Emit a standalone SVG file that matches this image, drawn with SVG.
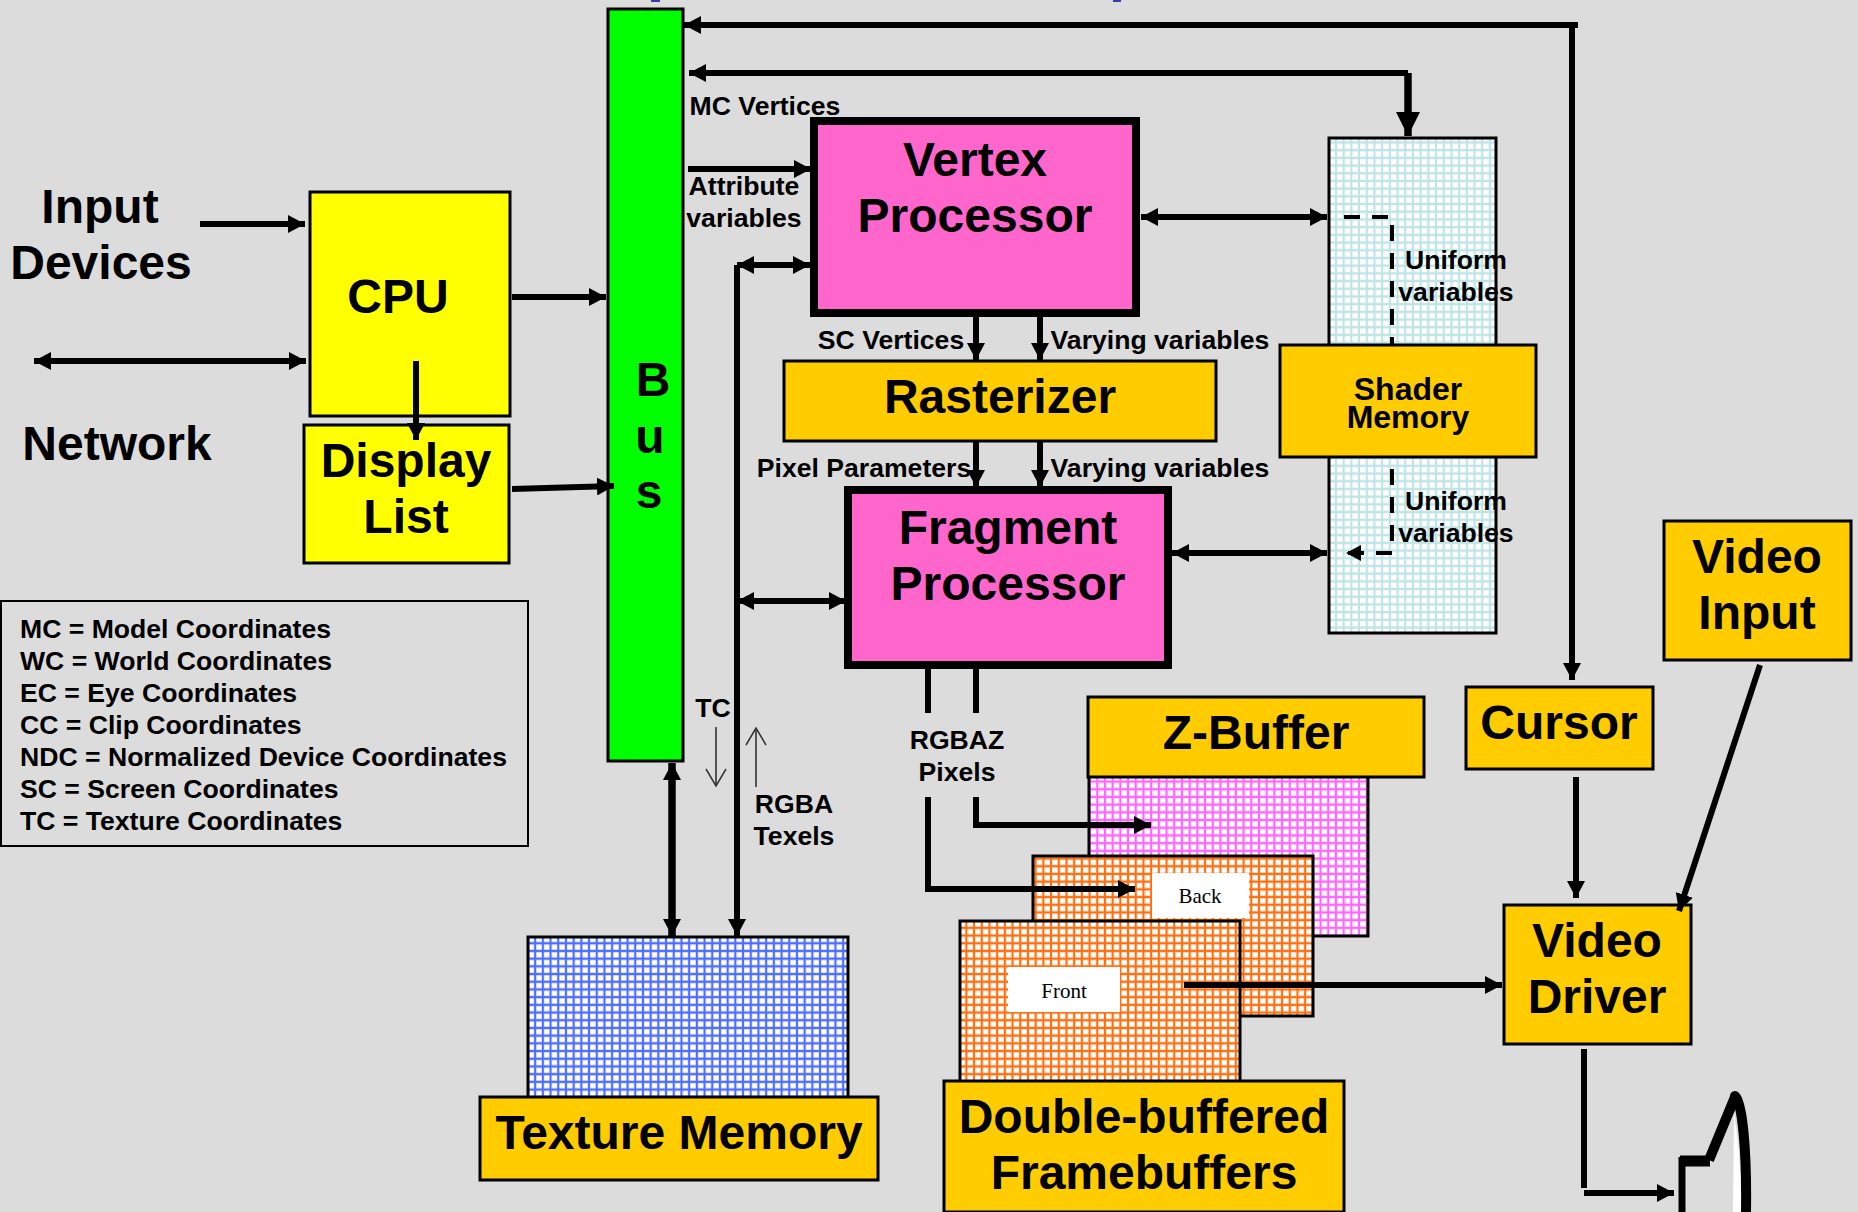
<svg xmlns="http://www.w3.org/2000/svg" width="1858" height="1212" viewBox="0 0 1858 1212">
<style>
text{font-family:"Liberation Sans",Arial,sans-serif;font-weight:700;fill:#000;text-anchor:middle}
.big{font-size:48px}
.lab{font-size:26.6px}
.leg{font-size:26.6px;text-anchor:start}
.ser{font-family:"Liberation Serif",serif;font-weight:400;font-size:21px}
.box{stroke:#000;stroke-width:3}
.thick{stroke:#000;stroke-width:8}
.c{fill:none;stroke:#000;stroke-width:6}
.c7{fill:none;stroke:#000;stroke-width:7.5}
.dash{fill:none;stroke:#000;stroke-width:4;stroke-dasharray:16 12}
.thin{fill:none;stroke:#555;stroke-width:2}
</style>
<defs>
<pattern id="pc" width="7.7" height="7.7" patternUnits="userSpaceOnUse"><rect width="7.7" height="7.7" fill="#fff"/><path d="M0 3.85H7.7M3.85 0V7.7" stroke="#bfe3e6" stroke-width="2.2"/></pattern>
<pattern id="pm" width="7.7" height="7.7" patternUnits="userSpaceOnUse"><rect width="7.7" height="7.7" fill="#fff"/><path d="M0 3.85H7.7M3.85 0V7.7" stroke="#ff66ff" stroke-width="2.2"/></pattern>
<pattern id="po" width="7.7" height="7.7" patternUnits="userSpaceOnUse"><rect width="7.7" height="7.7" fill="#fff"/><path d="M0 3.85H7.7M3.85 0V7.7" stroke="#ff6f10" stroke-width="2.2"/></pattern>
<pattern id="pb" width="7.7" height="7.7" patternUnits="userSpaceOnUse"><rect width="7.7" height="7.7" fill="#fff"/><path d="M0 3.85H7.7M3.85 0V7.7" stroke="#4d6dff" stroke-width="2.2"/></pattern>
<marker id="a" markerWidth="18" markerHeight="18" refX="17" refY="9" orient="auto-start-reverse" markerUnits="userSpaceOnUse"><path d="M0 0L17 9L0 18Z" fill="#000"/></marker>
<marker id="b" markerWidth="25" markerHeight="26" refX="24" refY="12" orient="auto" markerUnits="userSpaceOnUse"><path d="M0 0L24 12L0 24Z" fill="#000"/></marker>
<marker id="s" markerWidth="18" markerHeight="18" refX="15" refY="8" orient="auto-start-reverse" markerUnits="userSpaceOnUse"><path d="M0 0L15 8L0 16Z" fill="#000"/></marker>
<marker id="o" markerWidth="19" markerHeight="22" refX="18" refY="11" orient="auto" markerUnits="userSpaceOnUse"><path d="M1 1L18 11L1 21" fill="none" stroke="#333" stroke-width="1.5"/></marker>
</defs>
<rect width="1858" height="1212" fill="#dcdcdc"/>
<g id="title-clip"><rect x="651" y="0" width="9" height="2" fill="#3a3aa8"/><rect x="1113" y="0" width="8" height="2" fill="#3a3aa8"/></g>

<g id="uniform-store-top"><rect x="1329" y="138" width="167" height="495" fill="url(#pc)" stroke="#000" stroke-width="3"/></g>
<g id="zbuffer-plane"><rect x="1089" y="775" width="279" height="161" fill="url(#pm)" stroke="#000" stroke-width="3"/></g>
<g id="back"><rect x="1033" y="856" width="280" height="160" fill="url(#po)" stroke="#000" stroke-width="3"/><rect x="1152" y="873" width="97" height="45" fill="#fff"/><text class="ser" x="1200" y="903">Back</text></g>
<g id="front"><rect x="960" y="921" width="280" height="170" fill="url(#po)" stroke="#000" stroke-width="3"/><rect x="1008" y="967" width="112" height="45" fill="#fff"/><text class="ser" x="1064" y="998">Front</text></g>
<g id="texture-plane"><rect x="528" y="937" width="320" height="170" fill="url(#pb)" stroke="#000" stroke-width="3"/></g>

<g id="bus"><rect class="box" x="608" y="9" width="75" height="752" fill="#00ff00"/><text x="653" y="396" style="font-size:48px">B</text><text x="650" y="453" style="font-size:48px">u</text><text x="649" y="508" style="font-size:48px">s</text></g>
<g id="cpu"><rect class="box" x="310" y="192" width="200" height="224" fill="#ffff00"/><text class="big" x="398" y="313">CPU</text></g>
<g id="display-list"><rect class="box" x="304" y="425" width="205" height="138" fill="#ffff00"/><text class="big" x="406" y="477">Display</text><text class="big" x="406" y="533">List</text></g>
<g id="vertex"><rect class="thick" x="814" y="121" width="322" height="192" fill="#ff66cc"/><text class="big" x="975" y="176">Vertex</text><text class="big" x="975" y="232">Processor</text></g>
<g id="rasterizer"><rect class="box" x="784" y="361" width="432" height="80" fill="#ffcc00"/><text class="big" x="1000" y="413">Rasterizer</text></g>
<g id="fragment"><rect class="thick" x="848" y="490" width="320" height="175" fill="#ff66cc"/><text class="big" x="1008" y="544">Fragment</text><text class="big" x="1008" y="600">Processor</text></g>
<g id="shader"><rect class="box" x="1280" y="345" width="256" height="112" fill="#ffcc00"/><text x="1408" y="400" style="font-size:32px">Shader</text><text x="1408" y="428" style="font-size:32px">Memory</text></g>
<g id="zbuffer"><rect class="box" x="1088" y="697" width="336" height="80" fill="#ffcc00"/><text class="big" x="1256" y="749">Z-Buffer</text></g>
<g id="cursor"><rect class="box" x="1466" y="687" width="187" height="82" fill="#ffcc00"/><text class="big" x="1559" y="739">Cursor</text></g>
<g id="video-input"><rect class="box" x="1664" y="521" width="187" height="139" fill="#ffcc00"/><text class="big" x="1757" y="573">Video</text><text class="big" x="1757" y="629">Input</text></g>
<g id="video-driver"><rect class="box" x="1504" y="905" width="187" height="139" fill="#ffcc00"/><text class="big" x="1597" y="957">Video</text><text class="big" x="1597" y="1013">Driver</text></g>
<g id="texture-memory"><rect class="box" x="480" y="1097" width="398" height="83" fill="#ffcc00"/><text class="big" x="679" y="1149">Texture Memory</text></g>
<g id="framebuffers"><rect class="box" x="944" y="1081" width="400" height="131" fill="#ffcc00"/><text class="big" x="1144" y="1133">Double-buffered</text><text class="big" x="1144" y="1189">Framebuffers</text></g>
<g id="legend"><rect x="1" y="601" width="527" height="245" fill="none" stroke="#000" stroke-width="2"/>
<text class="leg" x="20" y="638">MC = Model Coordinates</text>
<text class="leg" x="20" y="670">WC = World Coordinates</text>
<text class="leg" x="20" y="702">EC = Eye Coordinates</text>
<text class="leg" x="20" y="734">CC = Clip Coordinates</text>
<text class="leg" x="20" y="766">NDC = Normalized Device Coordinates</text>
<text class="leg" x="20" y="798">SC = Screen Coordinates</text>
<text class="leg" x="20" y="830">TC = Texture Coordinates</text></g>
<g id="monitor"><path d="M1682 1212V1157" fill="none" stroke="#000" stroke-width="7"/><path d="M1680 1161H1710" fill="none" stroke="#000" stroke-width="11"/><path d="M1709 1160L1735 1097" fill="none" stroke="#000" stroke-width="10"/><path d="M1735 1096C1742 1100 1747 1150 1746 1212" fill="none" stroke="#000" stroke-width="10" stroke-linecap="round"/><path d="M1734 1114L1733 1212H1741C1741 1180 1740 1150 1734 1114Z" fill="#fff"/></g>

<g id="connectors">
<path class="c" d="M1578 25H684" marker-end="url(#a)"/>
<path class="c" d="M1572 25V680" marker-end="url(#a)"/>
<path class="c" d="M1408 73H689" marker-end="url(#a)"/>
<path class="c7" d="M1408 73V136" marker-end="url(#b)"/>
<path class="c" d="M688 169H811" marker-end="url(#a)"/>
<path class="c" d="M1141 217H1327" marker-start="url(#a)" marker-end="url(#a)"/>
<path class="c" d="M737 265H810" marker-start="url(#a)" marker-end="url(#a)"/>
<path class="c" d="M737 265V936" marker-end="url(#a)"/>
<path class="c" d="M737 601H846" marker-start="url(#a)" marker-end="url(#a)"/>
<path class="c7" d="M672 763V936" marker-start="url(#a)" marker-end="url(#a)"/>
<path class="c" d="M200 224H305" marker-end="url(#a)"/>
<path class="c" d="M34 361H306" marker-start="url(#a)" marker-end="url(#a)"/>
<path class="c" d="M512 297H606" marker-end="url(#a)"/>
<path class="c" d="M416 361V440" marker-end="url(#a)"/>
<path class="c" d="M512 489L614 486" marker-end="url(#a)"/>
<path class="c" d="M976 315V360" marker-end="url(#a)"/>
<path class="c" d="M1040 315V360" marker-end="url(#a)"/>
<path class="c" d="M976 441V487" marker-end="url(#a)"/>
<path class="c" d="M1040 441V487" marker-end="url(#a)"/>
<path class="c" d="M1172 553H1327" marker-start="url(#a)" marker-end="url(#a)"/>
<path class="dash" d="M1344 217H1392V345"/>
<path class="dash" d="M1392 469V553H1346" marker-end="url(#s)"/>
<path class="c" d="M928 668V713"/>
<path class="c" d="M976 668V713"/>
<path class="c" d="M976 797V825H1151" marker-end="url(#a)"/>
<path class="c" d="M928 797V889H1135" marker-end="url(#a)"/>
<path class="c" d="M1184 985H1502" marker-end="url(#a)"/>
<path class="c" d="M1576 777V898" marker-end="url(#a)"/>
<path class="c" d="M1760 665L1679 911" marker-end="url(#a)"/>
<path class="c" d="M1584 1049V1188"/>
<path class="c" d="M1584 1193H1674" marker-end="url(#a)"/>
<path class="thin" d="M716 727V786" marker-end="url(#o)"/>
<path class="thin" d="M756 787V728" marker-end="url(#o)"/>
</g>

<g id="labels">
<text class="big" x="100" y="223">Input</text><text class="big" x="101" y="279">Devices</text><text class="big" x="117" y="460">Network</text>
<text class="lab" x="765" y="115">MC Vertices</text>
<text class="lab" x="744" y="195">Attribute</text><text class="lab" x="744" y="227">variables</text>
<text class="lab" x="891" y="349">SC Vertices</text><text class="lab" x="1160" y="349">Varying variables</text>
<text class="lab" x="864" y="477">Pixel Parameters</text><text class="lab" x="1160" y="477">Varying variables</text>
<text class="lab" x="1456" y="269">Uniform</text><text class="lab" x="1456" y="301">variables</text>
<text class="lab" x="1456" y="510">Uniform</text><text class="lab" x="1456" y="542">variables</text>
<text class="lab" x="957" y="749">RGBAZ</text><text class="lab" x="957" y="781">Pixels</text>
<text class="lab" x="713" y="717">TC</text><text class="lab" x="794" y="813">RGBA</text><text class="lab" x="794" y="845">Texels</text>
</g>
</svg>
